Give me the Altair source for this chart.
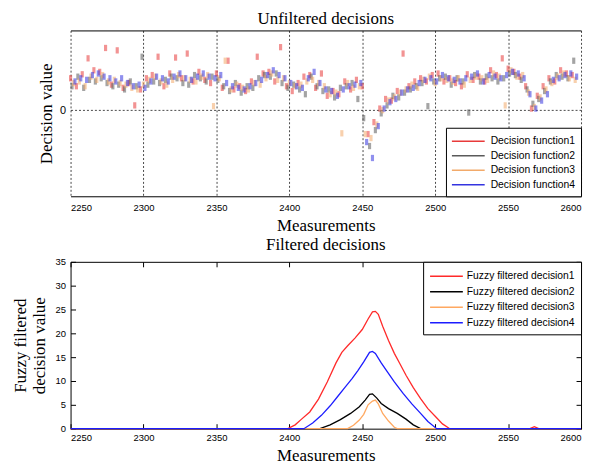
import altair as alt
import pandas as pd

# ---------------- top panel data (unfiltered decisions) ----------------
top_series = ["Decision function1", "Decision function2", "Decision function3", "Decision function4"]
top_colors = ["#e83a3a", "#5a5a5a", "#f2aa6a", "#3434e0"]
top_x_start = 2250
top_x_step = 4
top_offsets = [0, 1, 2, 3]

s1 = [0.40, 0.30, 0.45, 0.65, 0.50, 0.48, 0.78, 0.32, 0.75, 0.28,
      0.34, 0.06, 0.26, 0.40, 0.44, 0.67, 0.30, 0.46, 0.66, 0.40,
      0.71, 0.36, 0.48, 0.38, 0.34, 0.46, 0.28, 0.62, 0.26, 0.30,
      0.24, 0.36, 0.67, 0.46, 0.48, 0.36, 0.79, 0.30, 0.24, 0.34,
      0.42, 0.44, 0.28, 0.46, 0.18, 0.24, 0.20, 0.36, 0.26, 0.38,
      0.30, -0.30, -0.15, 0.02, 0.14, 0.12, 0.24, 0.71, 0.30, 0.36,
      0.40, 0.36, 0.44, 0.46, 0.36, 0.40, 0.34, 0.30, 0.45, 0.38,
      0.42, 0.36, 0.50, 0.44, 0.65, 0.52, 0.48, 0.42, 0.30, 0.02,
      0.18, 0.30, 0.40, 0.36, 0.50, 0.46, 0.44]
s2 = [0.30, 0.42, 0.28, 0.38, 0.36, 0.40, 0.34, 0.30, 0.32, 0.26,
      0.36, 0.30, 0.67, 0.32, 0.36, 0.34, 0.38, 0.42, 0.40, 0.34,
      0.32, 0.44, 0.40, 0.36, 0.42, 0.38, 0.30, 0.24, 0.34, 0.22,
      0.30, 0.28, 0.40, 0.44, 0.42, 0.46, 0.34, 0.28, 0.32, 0.26,
      0.20, 0.42, 0.30, 0.24, 0.26, 0.16, 0.28, 0.30, 0.34, 0.14,
      -0.10, -0.45, -0.25, -0.04, 0.06, 0.18, 0.16, 0.22, 0.26, 0.30,
      0.34, 0.05, 0.36, 0.40, 0.42, 0.32, 0.40, 0.36, -0.03, 0.44,
      0.36, 0.42, 0.40, 0.36, 0.40, 0.46, 0.44, 0.38, 0.26, 0.08,
      0.14, 0.24, 0.36, 0.44, 0.42, 0.40, 0.62]
s3 = [0.34, 0.36, 0.30, 0.42, 0.38, 0.44, 0.36, 0.38, 0.34, 0.32,
      0.28, 0.26, 0.32, 0.38, 0.42, 0.36, 0.32, 0.38, 0.44, 0.40,
      0.38, 0.36, 0.42, 0.44, 0.05, 0.40, 0.62, 0.26, 0.32, 0.28,
      0.26, 0.34, 0.32, 0.40, 0.46, 0.38, 0.40, 0.34, 0.30, 0.32,
      0.36, 0.38, 0.34, 0.30, 0.20, 0.22, -0.29, 0.34, 0.28, 0.30,
      -0.30, -0.35, -0.18, 0.00, 0.12, 0.16, 0.22, 0.26, 0.32, 0.28,
      0.38, 0.42, 0.34, 0.40, 0.38, 0.36, 0.40, 0.32, 0.38, 0.42,
      0.40, 0.38, 0.46, 0.42, 0.06, 0.50, 0.42, 0.44, 0.22, 0.04,
      0.16, 0.26, 0.34, 0.42, 0.46, 0.40, 0.38]
s4 = [0.36, 0.40, 0.38, 0.44, 0.46, 0.42, 0.40, 0.36, 0.40, 0.34,
      0.30, 0.32, 0.28, 0.36, 0.42, 0.40, 0.36, 0.42, 0.46, 0.40,
      0.38, 0.42, 0.46, 0.42, 0.40, 0.44, 0.34, 0.30, 0.28, 0.26,
      0.30, 0.34, 0.38, 0.44, 0.50, 0.44, 0.40, 0.34, 0.30, 0.28,
      0.40, 0.48, 0.34, 0.26, 0.24, 0.18, 0.26, 0.30, 0.32, 0.34,
      -0.40, -0.60, -0.20, 0.02, 0.10, 0.14, 0.22, 0.26, 0.28, 0.34,
      0.38, 0.40, 0.36, 0.44, 0.40, 0.38, 0.36, 0.40, 0.42, 0.46,
      0.36, 0.44, 0.42, 0.40, 0.44, 0.48, 0.46, 0.40, 0.20, 0.02,
      0.12, 0.20, 0.38, 0.40, 0.44, 0.46, 0.42]

# ---------------- bottom panel data (filtered decisions) ----------------
bot_series = ["Fuzzy filtered decision1", "Fuzzy filtered decision2",
              "Fuzzy filtered decision3", "Fuzzy filtered decision4"]
bot_colors = ["#ff2a2a", "#000000", "#ffa860", "#1c1cff"]

f1_x = [2250, 2399, 2404, 2408, 2414, 2420, 2426, 2432, 2436, 2440, 2445, 2450, 2454, 2457, 2459,
        2461, 2464, 2468, 2472, 2476, 2480, 2485, 2490, 2495, 2500, 2505, 2510, 2565, 2568, 2571, 2600]
f1_y = [0, 0, 0.8, 1.9, 3.5, 6.2, 9.8, 13.8, 16.0, 17.4, 19.0, 20.8, 23.0, 24.5, 24.6,
        24.0, 21.5, 18.5, 15.8, 13.5, 11.2, 8.6, 6.3, 4.2, 2.6, 1.0, 0, 0, 0.4, 0, 0]
f2_x = [2250, 2421, 2428, 2435, 2442, 2448, 2452, 2455, 2457, 2460, 2463, 2468, 2474, 2480, 2485, 2490, 2600]
f2_y = [0, 0, 0.8, 1.9, 3.2, 4.6, 6.0, 7.2, 7.3, 6.4, 5.3, 4.2, 3.2, 2.0, 0.8, 0, 0]
f3_x = [2250, 2440, 2444, 2448, 2451, 2454, 2457, 2459, 2461, 2464, 2468, 2472, 2474, 2600]
f3_y = [0, 0, 0.7, 1.8, 3.0, 5.0, 5.8, 6.0, 5.2, 3.2, 1.6, 0.3, 0, 0]
f4_x = [2250, 2410, 2416, 2422, 2428, 2433, 2438, 2443, 2447, 2451, 2455, 2457, 2459, 2463, 2467,
        2472, 2478, 2484, 2490, 2495, 2501, 2600]
f4_y = [0, 0, 1.2, 2.8, 4.8, 6.7, 8.6, 10.5, 12.2, 14.0, 16.0, 16.2, 15.8, 13.8, 12.0,
        9.8, 7.4, 5.2, 3.2, 1.5, 0, 0]

x_ticks = [2250, 2300, 2350, 2400, 2450, 2500, 2550, 2600]
y_ticks_bot = [0, 5, 10, 15, 20, 25, 30, 35]

# ---------------- tables ----------------
rows = []
for name, off, vals in zip(top_series, top_offsets, [s1, s2, s3, s4]):
    for k, v in enumerate(vals):
        rows.append({"x": top_x_start + top_x_step * k + off, "value": v, "series": name})
top_df = pd.DataFrame(rows)

rows = []
for name, xs, ys in zip(bot_series, [f1_x, f2_x, f3_x, f4_x], [f1_y, f2_y, f3_y, f4_y]):
    for xv, yv in zip(xs, ys):
        rows.append({"x": xv, "value": yv, "series": name})
bot_df = pd.DataFrame(rows)

SANS = "Liberation Sans"
SERIF = "Liberation Serif"
W = 514
xscale = alt.Scale(domain=[2250, 2600], nice=False, zero=False)

common_axis = dict(labelFont=SANS, labelFontSize=9.5, labelColor="black",
                   titleFont=SERIF, titleFontSize=17, titleFontWeight="normal", titleColor="black",
                   domainColor="black", tickColor="black")

RECT = "M-0.5,-1L0.5,-1L0.5,1L-0.5,1Z"

# ---------------- top chart ----------------
top_pts = alt.Chart(top_df).mark_point(filled=True, shape=RECT, size=40, opacity=0.55, strokeWidth=0).encode(
    x=alt.X("x:Q", scale=xscale,
            axis=alt.Axis(values=x_ticks, format="d", grid=True, gridColor="black", gridDash=[2, 2],
                          gridOpacity=0.9, gridWidth=0.8, ticks=False, labelPadding=6,
                          title="Measurements", titleY=34, titleBaseline="alphabetic", **common_axis)),
    y=alt.Y("value:Q", scale=alt.Scale(domain=[-1.08, 1], nice=False, zero=False),
            axis=alt.Axis(values=[0], grid=True, gridColor="black", gridDash=[2, 2], gridOpacity=0.9,
                          gridWidth=0.8, domain=False, ticks=False, labelPadding=5,
                          title="Decision value", titleX=-24, titleBaseline="middle",
                          **{**common_axis, "labelFontSize": 11})),
    color=alt.Color("series:N", scale=alt.Scale(domain=top_series, range=top_colors),
                    legend=alt.Legend(title=None, orient="bottom-right", offset=0, strokeColor="black",
                                      fillColor="white", padding=6, rowPadding=1.6,
                                      symbolType="M-1,-0.1L3.4,-0.1L3.4,0.1L-1,0.1Z",
                                      symbolSize=225, symbolOpacity=1, symbolStrokeWidth=0,
                                      labelFont=SANS, labelFontSize=10.4,
                                      labelColor="black", labelOffset=24)),
)
top_edge = alt.Chart(top_df).mark_point(opacity=0).encode(
    x=alt.X("x:Q", scale=xscale,
            axis=alt.Axis(orient="top", values=x_ticks, labels=False, ticks=False, grid=False,
                          title=None, domainColor="black")),
)
top = alt.layer(top_pts, top_edge).resolve_scale(x="independent").properties(
    width=W, height=167,
    title=alt.TitleParams("Unfiltered decisions", font=SERIF, fontSize=17, fontWeight="normal",
                          color="black", offset=2),
)

# ---------------- bottom chart ----------------
inward = {"expr": "-5"}
bot_lines = alt.Chart(bot_df).mark_line(strokeWidth=1.3).encode(
    x=alt.X("x:Q", scale=xscale,
            axis=alt.Axis(values=x_ticks, format="d", grid=False, tickSize=inward, labelPadding=9,
                          title="Measurements", titleY=32, titleBaseline="alphabetic", **common_axis)),
    y=alt.Y("value:Q", scale=alt.Scale(domain=[0, 35], nice=False),
            axis=alt.Axis(values=y_ticks_bot, grid=False, tickSize=inward, labelPadding=10,
                          title=["Fuzzy filtered", "decision value"], titleX=-50, titleBaseline="middle",
                          titleLineHeight=19, **common_axis)),
    color=alt.Color("series:N", scale=alt.Scale(domain=bot_series, range=bot_colors),
                    legend=alt.Legend(title=None, orient="top-right", offset=0, strokeColor="black",
                                      fillColor="white", padding=6, rowPadding=1.6,
                                      symbolType="M-1,0L3.4,0", symbolSize=225, symbolStrokeWidth=1.6,
                                      labelFont=SANS, labelFontSize=10.4, labelColor="black", labelOffset=21)),
)
bot_edge = alt.Chart(bot_df).mark_line(opacity=0).encode(
    x=alt.X("x:Q", scale=xscale,
            axis=alt.Axis(orient="top", values=x_ticks, labels=False, tickSize=inward, grid=False,
                          title=None, domainColor="black", tickColor="black")),
    y=alt.Y("value:Q", scale=alt.Scale(domain=[0, 35], nice=False),
            axis=alt.Axis(orient="right", values=y_ticks_bot, labels=False, tickSize=inward, grid=False,
                          title=None, domainColor="black", tickColor="black")),
)
bottom = alt.layer(bot_lines, bot_edge).resolve_scale(x="independent", y="independent").properties(
    width=W, height=168,
    title=alt.TitleParams("Filtered decisions", font=SERIF, fontSize=17, fontWeight="normal",
                          color="black", offset=3),
)

chart = alt.vconcat(top, bottom, spacing=3).resolve_scale(color="independent").properties(
    padding={"left": 4, "top": 1, "right": 0, "bottom": 0},
).configure_view(stroke=None)

chart.save("out.html", embed_options={"renderer": "svg", "actions": False})
